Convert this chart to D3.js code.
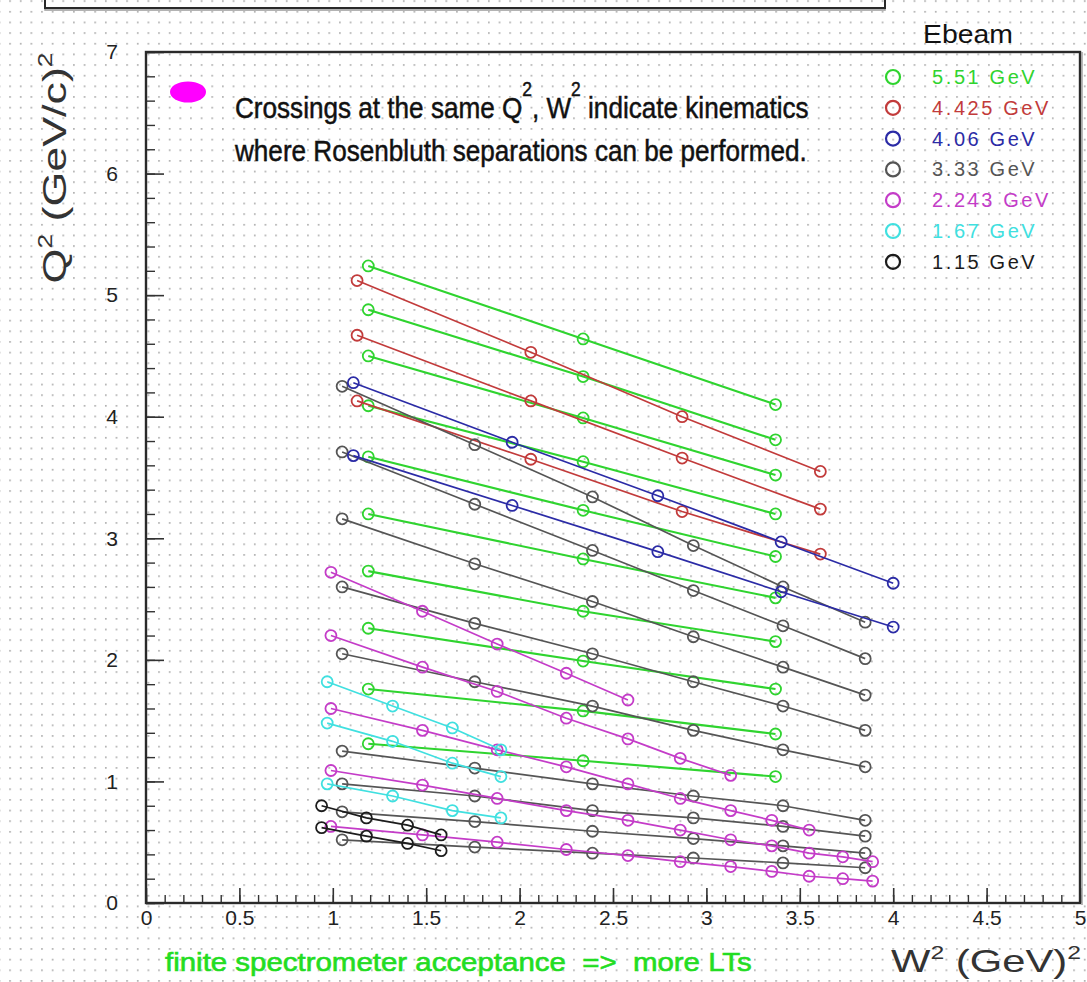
<!DOCTYPE html>
<html><head><meta charset="utf-8">
<script src="https://cdn.jsdelivr.net/npm/d3@7/dist/d3.min.js"></script>
<style>
html,body{margin:0;padding:0;background:#fff;}
svg{display:block;}
text{font-family:"Liberation Sans", Arial, Helvetica, sans-serif;}
</style></head><body>
<svg id="chart" width="1087" height="982"></svg>
<script>
// Beam energies, in legend order
const beamLabels = ["5.51 GeV", "4.425 GeV", "4.06 GeV", "3.33 GeV", "2.243 GeV", "1.67 GeV", "1.15 GeV"];
const beamColors = ["#2fd42f", "#c23b3b", "#2b2ba6", "#555555", "#c43cc8", "#40e0e0", "#1c1c1c"];

// Each beam energy: W^2 settings (GeV^2) and Q^2 values (GeV/c)^2, one row per fixed-angle line
const w2_551 = [1.19, 2.34, 3.37];
const q2_551 = [
  [5.24, 4.64, 4.10], [4.88, 4.33, 3.81], [4.50, 3.99, 3.52], [4.09, 3.63, 3.20], [3.67, 3.23, 2.85],
  [3.20, 2.83, 2.51], [2.73, 2.40, 2.15], [2.26, 1.99, 1.76], [1.76, 1.58, 1.39], [1.31, 1.17, 1.04]
];

const w2_4425 = [1.13, 2.06, 2.87, 3.61];
const q2_4425 = [
  [5.12, 4.53, 4.00, 3.55], [4.67, 4.13, 3.66, 3.24], [4.13, 3.65, 3.22, 2.87]
];

const w2_406 = [1.11, 1.96, 2.74, 3.40, 4.00];
const q2_406 = [
  [4.28, 3.79, 3.35, 2.97, 2.63], [3.68, 3.27, 2.89, 2.56, 2.27]
];

const w2_333 = [1.05, 1.76, 2.39, 2.93, 3.41, 3.85];
const q2_333 = [
  [4.25, 3.77, 3.34, 2.94, 2.60, 2.31], [3.71, 3.28, 2.90, 2.57, 2.28, 2.01],
  [3.16, 2.79, 2.48, 2.19, 1.94, 1.71], [2.60, 2.30, 2.05, 1.82, 1.62, 1.42],
  [2.05, 1.82, 1.62, 1.42, 1.26, 1.12], [1.25, 1.11, 0.98, 0.88, 0.80, 0.68],
  [0.98, 0.88, 0.76, 0.70, 0.63, 0.55], [0.75, 0.67, 0.59, 0.53, 0.47, 0.41],
  [0.52, 0.46, 0.41, 0.37, 0.33, 0.29]
];

const w2_2243 = [0.99, 1.48, 1.88, 2.25, 2.58, 2.86, 3.13, 3.35, 3.55, 3.73, 3.89];
const q2_2243 = [
  [2.72, 2.40, 2.13, 1.89, 1.67],
  [2.20, 1.94, 1.74, 1.52, 1.35, 1.19, 1.05],
  [1.60, 1.42, 1.26, 1.12, 0.98, 0.86, 0.76, 0.68, 0.60],
  [1.09, 0.97, 0.86, 0.76, 0.68, 0.60, 0.52, 0.47, 0.41, 0.38, 0.34],
  [0.63, 0.56, 0.50, 0.44, 0.39, 0.34, 0.30, 0.26, 0.22, 0.20, 0.18]
];

const w2_167 = [0.97, 1.32, 1.64, 1.90];
const q2_167 = [
  [1.82, 1.62, 1.44, 1.26], [1.48, 1.33, 1.15, 1.04], [0.98, 0.88, 0.76, 0.70]
];

const w2_115 = [0.94, 1.18, 1.40, 1.58];
const q2_115 = [
  [0.80, 0.70, 0.64, 0.56], [0.62, 0.55, 0.49, 0.43]
];

// Axis ticks
const xTicks = [0, 0.5, 1, 1.5, 2, 2.5, 3, 3.5, 4, 4.5, 5];
const xTickLabels = ["0", "0.5", "1", "1.5", "2", "2.5", "3", "3.5", "4", "4.5", "5"];
const yTicks = [0, 1, 2, 3, 4, 5, 6, 7];

// Drawing order of the beam energies (index into the legend arrays)
const seriesData = [
  {idx: 0, w2: w2_551, q2: q2_551},
  {idx: 1, w2: w2_4425, q2: q2_4425},
  {idx: 3, w2: w2_333, q2: q2_333},
  {idx: 2, w2: w2_406, q2: q2_406},
  {idx: 4, w2: w2_2243, q2: q2_2243},
  {idx: 5, w2: w2_167, q2: q2_167},
  {idx: 6, w2: w2_115, q2: q2_115}
];

const svg = d3.select("#chart");
const W = 1087, H = 982;
const frame = {left: 146, right: 1080, top: 52, bottom: 903};

const x = d3.scaleLinear().domain([0, 5]).range([frame.left, frame.right]);
const y = d3.scaleLinear().domain([0, 7]).range([frame.bottom, frame.top]);

// dotted canvas background
const defs = svg.append("defs");
const pat = defs.append("pattern").attr("id", "dots")
  .attr("patternUnits", "userSpaceOnUse")
  .attr("x", 9.2).attr("y", 10.9).attr("width", 10.64).attr("height", 10.65);
pat.append("rect").attr("x", 0).attr("y", 0).attr("width", 1.7).attr("height", 1.7).attr("fill", "#b0b0b0");
svg.append("rect").attr("width", W).attr("height", H).attr("fill", "#fff");
svg.append("rect").attr("width", W).attr("height", H).attr("fill", "url(#dots)");

// title pad edge at the top
svg.append("path").attr("d", "M45,-2 V10 H885 V-2").attr("fill", "none").attr("stroke", "#9a9a9a").attr("stroke-width", 1.5);
svg.append("path").attr("d", "M45,-2 V8 H885 V-2").attr("fill", "none").attr("stroke", "#2a2a2a").attr("stroke-width", 2);

// horizontal scale factor that makes a text element span the given width
function fitWidth(t, width) {
  const bb = t.node().getBBox();
  return bb.width > 0 ? width / bb.width : 1;
}

// minor and major ticks on the y axis (pointing into the frame)
const yMinor = d3.range(0, 7.001, 0.2).map(v => +v.toFixed(1));
svg.append("g").attr("transform", `translate(${frame.left},0)`)
  .call(d3.axisLeft(y).tickValues(yMinor).tickSizeInner(-9).tickSizeOuter(0).tickFormat(""))
  .call(g => g.select(".domain").remove())
  .call(g => g.selectAll("line").attr("stroke", "#333").attr("stroke-width", 1.4));
svg.append("g").attr("transform", `translate(${frame.left},0)`)
  .call(d3.axisLeft(y).tickValues(yTicks).tickSizeInner(-18).tickSizeOuter(0).tickPadding(28).tickFormat(d3.format("d")))
  .call(g => g.select(".domain").remove())
  .call(g => g.selectAll("line").attr("stroke", "#333").attr("stroke-width", 1.6))
  .call(g => g.selectAll("text").attr("font-size", 21).attr("fill", "#222")
      .attr("font-family", "Liberation Sans, Arial, sans-serif"));

// minor and major ticks on the x axis
const xMinor = d3.range(0, 5.001, 0.1).map(v => +v.toFixed(1));
svg.append("g").attr("transform", `translate(0,${frame.bottom})`)
  .call(d3.axisBottom(x).tickValues(xMinor).tickSizeInner(-8).tickSizeOuter(0).tickFormat(""))
  .call(g => g.select(".domain").remove())
  .call(g => g.selectAll("line").attr("stroke", "#333").attr("stroke-width", 1.4));
svg.append("g").attr("transform", `translate(0,${frame.bottom})`)
  .call(d3.axisBottom(x).tickValues(xTicks).tickSizeInner(-15).tickSizeOuter(0).tickPadding(7)
      .tickFormat((d, i) => xTickLabels[i]))
  .call(g => g.select(".domain").remove())
  .call(g => g.selectAll("line").attr("stroke", "#333").attr("stroke-width", 1.6))
  .call(g => g.selectAll("text").attr("font-size", 21).attr("fill", "#222")
      .attr("font-family", "Liberation Sans, Arial, sans-serif"));

// frame
svg.append("rect").attr("x", frame.left).attr("y", frame.top)
  .attr("width", frame.right - frame.left).attr("height", frame.bottom - frame.top)
  .attr("fill", "none").attr("stroke", "#2a2a2a").attr("stroke-width", 2.4);
svg.append("line").attr("x1", frame.right + 2).attr("x2", frame.right + 2)
  .attr("y1", frame.top).attr("y2", frame.bottom + 2).attr("stroke", "#8a8a8a").attr("stroke-width", 1.2);

// fixed-angle lines with open-circle markers
const line = d3.line().x(d => x(d[0])).y(d => y(d[1]));
const plot = svg.append("g");
seriesData.forEach(s => {
  const color = beamColors[s.idx];
  const g = plot.append("g");
  s.q2.forEach(row => {
    const pts = row.map((q, i) => [s.w2[i], q]);
    g.append("path").attr("d", line(pts)).attr("fill", "none")
      .attr("stroke", color).attr("stroke-width", s.idx === 0 ? 2.1 : 1.7);
    g.selectAll(null).data(pts).enter().append("circle")
      .attr("cx", d => x(d[0])).attr("cy", d => y(d[1])).attr("r", 5.5)
      .attr("fill", "none").attr("stroke", color).attr("stroke-width", 1.8);
  });
});

// legend
svg.append("text").attr("x", 0).attr("y", 0).attr("font-size", 25).attr("fill", "#111")
  .text("Ebeam")
  .call(t => t.attr("transform", `translate(923,43) scale(${fitWidth(t, 90)},1)`));
const legend = svg.append("g");
beamLabels.forEach((lab, i) => {
  const ly = 77 + i * 30.8;
  legend.append("circle").attr("cx", 893).attr("cy", ly).attr("r", 7)
    .attr("fill", "none").attr("stroke", beamColors[i]).attr("stroke-width", 2.2);
  legend.append("text").attr("x", 932).attr("y", ly + 7).attr("font-size", 20)
    .attr("letter-spacing", 2.6).attr("fill", beamColors[i]).text(lab);
});

// note about crossings
svg.append("ellipse").attr("cx", 188).attr("cy", 92).attr("rx", 18).attr("ry", 10.5).attr("fill", "#ff00ff");
const note1 = svg.append("text").attr("font-size", 30).attr("fill", "#111")
  .attr("stroke", "#111").attr("stroke-width", 0.5);
note1.append("tspan").text("Crossings at the same Q");
note1.append("tspan").attr("font-size", 20).attr("dy", -22).text("2");
note1.append("tspan").attr("dy", 22).text(", W");
note1.append("tspan").attr("font-size", 20).attr("dy", -22).text("2");
note1.append("tspan").attr("dy", 22).text(" indicate kinematics");
note1.attr("transform", `translate(235,118) scale(${fitWidth(note1, 574)},1)`);
const note2 = svg.append("text").attr("font-size", 30).attr("fill", "#111")
  .attr("stroke", "#111").attr("stroke-width", 0.5)
  .text("where Rosenbluth separations can be performed.");
note2.attr("transform", `translate(235,161) scale(${fitWidth(note2, 573)},1)`);

// axis titles
const yTitle = svg.append("text").attr("font-size", 34).attr("fill", "#333").attr("text-anchor", "middle");
yTitle.append("tspan").text("Q");
yTitle.append("tspan").attr("font-size", 20).attr("dy", -14).text("2");
yTitle.append("tspan").attr("dy", 14).text("\u00a0(GeV/c)");
yTitle.append("tspan").attr("font-size", 20).attr("dy", -14).text("2");
yTitle.attr("transform", `translate(66,168) rotate(-90) scale(${fitWidth(yTitle, 231)},1)`);

const xTitle = svg.append("text").attr("font-size", 32).attr("fill", "#333");
xTitle.append("tspan").text("W");
xTitle.append("tspan").attr("font-size", 19).attr("dy", -13).text("2");
xTitle.append("tspan").attr("dy", 13).text("\u00a0(GeV)");
xTitle.append("tspan").attr("font-size", 19).attr("dy", -13).text("2");
xTitle.attr("transform", `translate(891,972) scale(${fitWidth(xTitle, 190)},1)`);

const footnote = svg.append("text").attr("font-size", 26).attr("fill", "#22dd22")
  .attr("stroke", "#22dd22").attr("stroke-width", 0.6)
  .text("finite spectrometer acceptance\u00a0\u00a0=>\u00a0\u00a0more LTs");
footnote.attr("transform", `translate(165,971) scale(${fitWidth(footnote, 587)},1)`);
</script>
</body></html>
